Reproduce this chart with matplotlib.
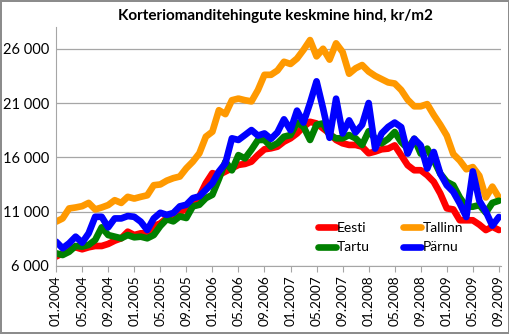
import matplotlib
matplotlib.use('Agg')
import matplotlib.pyplot as plt

plt.rcParams['font.family'] = ['Lato', 'DejaVu Sans']

# kuud 01.2004 ... 09.2009
months = [f"{m:02d}.{y}" for y in range(2004, 2010) for m in range(1, 13)][:69]

eesti = [6860, 7160, 7620, 7710, 7530, 7710, 7830, 7830, 8020, 8320, 8540, 9150,
         8840, 9000, 9000, 9670, 9910, 10400, 10710, 11020, 11170, 11790, 12400, 13620,
         14540, 14380, 14690, 14990, 15300, 15390, 15600, 16220, 16740, 16830, 16980, 17440,
         17750, 18200, 18820, 19270, 19120, 18660, 18200, 17600, 17290, 17140, 17140, 16980,
         16370, 16530, 16740, 16800, 17100, 16190, 15270, 14810, 14810, 14350, 13740, 12670,
         11300, 11200, 10200, 10200, 10200, 9800, 9300, 9600, 9300]
tallinn = [10070, 10370, 11290, 11380, 11500, 11800, 11200, 11380, 11600, 12050, 11800, 12360,
           12200, 12360, 12500, 13430, 13500, 13850, 14080, 14230, 14990, 15600, 16370, 17900,
           18360, 20340, 19980, 21260, 21410, 21260, 21150, 22200, 23600, 23600, 24000, 24800,
           24600, 25100, 25900, 26800, 25300, 26000, 25000, 26500, 25700, 23700, 24200, 24500,
           23900, 23500, 23200, 22900, 22800, 22200, 21300, 20700, 20700, 20900, 19900, 19000,
           18000, 16300, 15700, 14900, 15100, 14300, 12300, 13300, 12300]
tartu = [7160, 7000, 7300, 7830, 7770, 7930, 8380, 9550, 8840, 8690, 8540, 8840,
         8630, 8690, 8540, 8840, 9670, 10300, 10100, 10560, 10410, 11480, 11630, 12240,
         12550, 14000, 15600, 14800, 16200, 15900, 16700, 17600, 17600, 16980, 17300, 17900,
         18050, 19200, 18820, 17600, 19000, 19120, 18050, 17750, 17750, 18050, 17750, 17140,
         18400, 17750, 17290, 17700, 18330, 17410, 16800, 17710, 16340, 16800, 15730, 14500,
         13740, 13430, 12300, 11450, 11450, 11600, 10900, 11800, 12000]
parnu = [8230, 7620, 8080, 8690, 8140, 9000, 10520, 10520, 9550, 10370, 10370, 10590,
         10520, 10070, 9300, 10370, 10890, 10700, 10870, 11480, 11630, 12240, 12400, 13010,
         13620, 14690, 15450, 17750, 17600, 18050, 18510, 18000, 18200, 17700, 18300, 19500,
         18500, 20300, 19200, 21000, 23000, 20500, 17800, 21400, 18200, 19400, 18300, 19000,
         21000, 16800, 18200, 18800, 19200, 18780, 16340, 17710, 17100, 14960, 16490, 14500,
         13430, 12820, 11750, 10500, 14700, 12000, 11000, 9700, 10500]

series = [("Eesti", eesti, "#ff0000"), ("Tallinn", tallinn, "#ff9900"),
          ("Tartu", tartu, "#008000"), ("Pärnu", parnu, "#0000ff")]
yticks = [6000, 11000, 16000, 21000, 26000]

fig = plt.figure(figsize=(5.1, 3.34), dpi=100)
fig.patch.set_edgecolor('#8c8c8c')
fig.patch.set_linewidth(1.5)
ax = fig.add_axes([0.110, 0.204, 0.872, 0.715])

x = list(range(len(months)))
lines = {}
for name, vals, col in series:
    lines[name], = ax.plot(x, vals, color=col, lw=4.8, label=name,
                           solid_joinstyle='round', solid_capstyle='round')

ax.set_xlim(0, 68.3)
ax.set_ylim(6000, 28000)
ax.set_yticks(yticks)
ax.set_yticklabels([f"{v:,}".replace(",", " ") for v in yticks], fontsize=10.5)
ax.set_xticks(x[::4])
ax.set_xticklabels(months[::4], rotation=90, fontsize=9.8)
ax.grid(axis='y', color='#a6a6a6', lw=0.9)
ax.set_axisbelow(True)
for s in ['top', 'right']:
    ax.spines[s].set_visible(False)
ax.spines['left'].set_color('#a6a6a6')
ax.spines['bottom'].set_color('#a6a6a6')
ax.tick_params(axis='y', length=0, pad=5)
ax.tick_params(axis='x', length=4, color='#a6a6a6', pad=3)

fig.text(0.54, 0.953, "Korteriomanditehingute keskmine hind, kr/m2",
         ha='center', va='center', fontsize=11, fontweight='bold')

# legendi järjekord ridade kaupa: Eesti, Tallinn / Tartu, Pärnu
order = ["Eesti", "Tartu", "Tallinn", "Pärnu"]
ax.legend([lines[n] for n in order], order, ncol=2, loc='lower left',
          bbox_to_anchor=(0.56, 0.0), frameon=False,
          fontsize=10, handlelength=1.3, handletextpad=0.1, columnspacing=2.4,
          labelspacing=0.55)

fig.savefig('out.png', dpi=100)
